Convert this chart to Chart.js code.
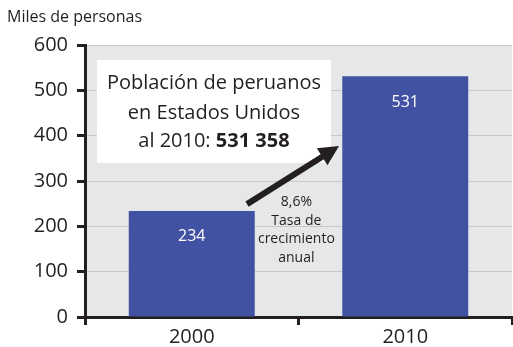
<!DOCTYPE html>
<html>
<head>
<meta charset="utf-8">
<script src="https://cdn.jsdelivr.net/npm/chart.js@4/dist/chart.umd.min.js"></script>
<style>
  html, body { margin: 0; padding: 0; background: #fff; }
  #wrap { width: 513px; height: 347px; }
</style>
</head>
<body>
<div id="wrap"><canvas id="chart" width="513" height="347"></canvas></div>
<script>
const years = ["2000", "2010"];
const poblacion = [234, 531];
const yTicks = [0, 100, 200, 300, 400, 500, 600];

const unidad = "Miles de personas";
const cuadro = ["Población de peruanos", "en Estados Unidos", "al 2010: "];
const cuadroBold = "531 358";
const tasa = ["8,6%", "Tasa de", "crecimiento", "anual"];

const FONT = "'Open Sans', 'Noto Sans', sans-serif";
const INK = "#231f20";
const BAR = "#4152a3";

// gray plot background
const plotBg = {
    id: "plotBg",
    beforeDraw(chart) {
        const { ctx, chartArea: a } = chart;
        ctx.save();
        ctx.fillStyle = "#e6e7e8";
        ctx.fillRect(a.left, a.top, a.right - a.left, a.bottom - a.top);
        ctx.restore();
    }
};

const extras = {
    id: "extras",
    afterDatasetsDraw(chart) {
        const { ctx } = chart;
        const x = chart.scales.x, y = chart.scales.y;

        // value inside each bar
        ctx.save();
        ctx.fillStyle = "#fff";
        ctx.font = "16px " + FONT;
        ctx.textAlign = "center";
        ctx.textBaseline = "middle";
        chart.getDatasetMeta(0).data.forEach((bar, i) => {
            ctx.fillText(String(poblacion[i]), bar.x, bar.y + 26);
        });

        // unit label
        ctx.fillStyle = INK;
        ctx.textAlign = "left";
        ctx.textBaseline = "alphabetic";
        ctx.font = "16px " + FONT;
        ctx.fillText(unidad, 7, 22);

        // white callout box
        const bx0 = x.getPixelForValue(-0.444), bx1 = x.getPixelForValue(0.652);
        const by0 = y.getPixelForValue(567), by1 = y.getPixelForValue(340);
        ctx.fillStyle = "#fff";
        ctx.fillRect(bx0, by0, bx1 - bx0, by1 - by0);

        const cx = (bx0 + bx1) / 2;
        ctx.fillStyle = INK;
        ctx.textBaseline = "middle";
        ctx.textAlign = "center";
        ctx.font = "20px " + FONT;
        ctx.fillText(cuadro[0], cx, by0 + 23);
        ctx.fillText(cuadro[1], cx, by0 + 53);
        const normW = ctx.measureText(cuadro[2]).width;
        ctx.font = "bold 20px " + FONT;
        const boldW = ctx.measureText(cuadroBold).width;
        const sx = cx - (normW + boldW) / 2;
        ctx.textAlign = "left";
        ctx.font = "20px " + FONT;
        ctx.fillText(cuadro[2], sx, by0 + 81);
        ctx.font = "bold 20px " + FONT;
        ctx.fillText(cuadroBold, sx + normW, by0 + 81);

        // growth arrow
        const ax0 = x.getPixelForValue(0.259), ay0 = y.getPixelForValue(249);
        const ax1 = x.getPixelForValue(0.69), ay1 = y.getPixelForValue(377);
        const ang = Math.atan2(ay1 - ay0, ax1 - ax0);
        const head = 20;
        const bx = ax1 - head * Math.cos(ang), byy = ay1 - head * Math.sin(ang);
        ctx.strokeStyle = INK;
        ctx.lineWidth = 6;
        ctx.beginPath();
        ctx.moveTo(ax0, ay0);
        ctx.lineTo(bx + 2 * Math.cos(ang), byy + 2 * Math.sin(ang));
        ctx.stroke();
        ctx.beginPath();
        ctx.moveTo(ax1, ay1);
        ctx.lineTo(bx + 10 * Math.sin(ang), byy - 10 * Math.cos(ang));
        ctx.lineTo(bx - 10 * Math.sin(ang), byy + 10 * Math.cos(ang));
        ctx.closePath();
        ctx.fillStyle = INK;
        ctx.fill();

        // growth rate note
        ctx.textAlign = "center";
        ctx.textBaseline = "middle";
        ctx.font = "14px " + FONT;
        const tx = x.getPixelForValue(0.49);
        tasa.forEach((t, i) => ctx.fillText(t, tx, 202 + i * 18.7));
        ctx.restore();
    }
};

new Chart(document.getElementById("chart").getContext("2d"), {
    type: "bar",
    data: {
        labels: years,
        datasets: [{
            data: poblacion,
            backgroundColor: BAR,
            barPercentage: 0.59,
            categoryPercentage: 1
        }]
    },
    options: {
        responsive: false,
        animation: false,
        events: [],
        layout: { padding: { left: 8, right: 1, top: 45, bottom: 0 } },
        plugins: {
            legend: { display: false },
            tooltip: { enabled: false }
        },
        scales: {
            y: {
                min: 0,
                max: 600,
                afterFit(s) { s.width = 77; },
                afterBuildTicks(s) { s.ticks = yTicks.map(v => ({ value: v })); },
                border: { display: true, color: INK, width: 3 },
                grid: {
                    color: "#c8c8c8",
                    lineWidth: 1,
                    tickLength: 8,
                    tickColor: INK,
                    tickWidth: 3
                },
                ticks: {
                    color: INK,
                    padding: 9,
                    font: { family: FONT, size: 20 }
                }
            },
            x: {
                offset: true,
                afterFit(s) { s.height = 30; },
                border: { display: true, color: INK, width: 3 },
                grid: {
                    offset: true,
                    drawOnChartArea: false,
                    tickLength: 8,
                    tickColor: INK,
                    tickWidth: 3
                },
                ticks: {
                    color: INK,
                    padding: 0,
                    font: { family: FONT, size: 20 }
                }
            }
        }
    },
    plugins: [plotBg, extras]
});
</script>
</body>
</html>
